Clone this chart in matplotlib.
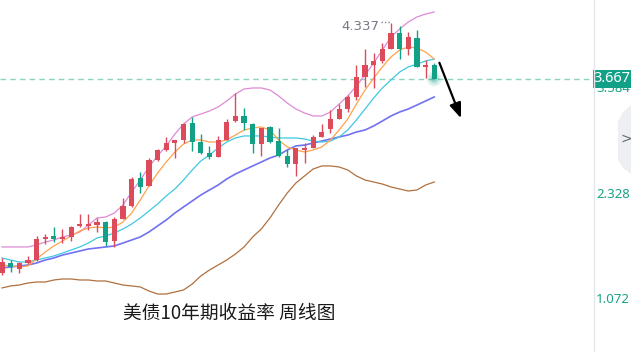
import matplotlib
matplotlib.use("Agg")
import matplotlib.pyplot as plt
from matplotlib.patches import Ellipse, Polygon, Rectangle
import matplotlib.transforms as mtransforms
import numpy as np

plt.rcParams['font.family'] = ['Noto Sans CJK SC', 'DejaVu Sans']

# weekly candles (open, high, low, close)
opens = [1.358, 1.477, 1.406, 1.477, 1.513, 1.763, 1.799, 1.763, 1.787, 1.918,
         1.918, 1.929, 1.965, 1.739, 2.001, 2.156, 2.489, 2.394, 2.703, 2.822,
         2.905, 2.941, 3.143, 2.917, 2.786, 2.739, 2.941, 3.167, 3.227, 3.131,
         2.893, 3.096, 2.929, 2.751, 2.655, 2.822, 2.846, 2.977, 3.072, 3.191,
         3.310, 3.453, 3.691, 3.833, 3.881, 4.024, 4.214, 4.024, 4.155, 3.810,
         3.833]
highs = [1.537, 1.513, 1.489, 1.561, 1.799, 1.822, 1.906, 1.882, 1.918, 2.060,
         2.060, 2.013, 1.977, 2.025, 2.251, 2.501, 2.560, 2.727, 2.834, 2.977,
         2.941, 3.143, 3.215, 3.012, 2.870, 2.989, 3.191, 3.500, 3.322, 3.143,
         3.084, 3.108, 3.084, 2.834, 2.846, 2.905, 3.000, 3.131, 3.298, 3.369,
         3.476, 3.833, 4.024, 3.976, 4.095, 4.337, 4.298, 4.226, 4.250, 3.893,
         3.857]
lows = [1.334, 1.370, 1.358, 1.465, 1.501, 1.703, 1.727, 1.715, 1.739, 1.906,
        1.870, 1.846, 1.680, 1.668, 2.001, 2.144, 2.310, 2.394, 2.691, 2.810,
        2.727, 2.905, 2.810, 2.774, 2.715, 2.739, 2.941, 3.155, 3.060, 2.786,
        2.751, 2.905, 2.739, 2.620, 2.513, 2.667, 2.846, 2.977, 3.024, 3.191,
        3.274, 3.417, 3.572, 3.560, 3.857, 4.024, 3.905, 3.952, 3.810, 3.679,
        3.667]
closes = [1.489, 1.430, 1.477, 1.513, 1.763, 1.787, 1.763, 1.787, 1.906, 1.941,
          1.929, 1.965, 1.727, 2.001, 2.156, 2.477, 2.382, 2.703, 2.822, 2.905,
          2.941, 3.131, 2.917, 2.786, 2.739, 2.941, 3.155, 3.227, 3.143, 2.893,
          3.084, 2.917, 2.751, 2.655, 2.846, 2.834, 2.977, 3.036, 3.191, 3.310,
          3.453, 3.691, 3.833, 3.881, 4.024, 4.214, 4.024, 4.167, 3.810, 3.822,
          3.667]

# indicator lines
ma5 = [1.453, 1.442, 1.430, 1.442, 1.525, 1.608, 1.680, 1.739, 1.799, 1.858,
       1.894, 1.906, 1.894, 1.906, 1.965, 2.072, 2.227, 2.394, 2.548, 2.679,
       2.798, 2.893, 2.941, 2.941, 2.917, 2.917, 2.941, 3.000, 3.060, 3.084,
       3.096, 3.060, 2.941, 2.858, 2.822, 2.798, 2.822, 2.858, 2.941, 3.060,
       3.191, 3.369, 3.536, 3.679, 3.810, 3.929, 4.012, 4.048, 4.036, 3.988,
       3.905]
ma10 = [1.537, 1.513, 1.489, 1.489, 1.513, 1.537, 1.561, 1.596, 1.632, 1.668,
        1.715, 1.775, 1.799, 1.834, 1.882, 1.941, 2.013, 2.096, 2.179, 2.275,
        2.358, 2.465, 2.584, 2.691, 2.762, 2.846, 2.917, 2.965, 2.989, 2.989,
        2.989, 2.977, 2.965, 2.965, 2.965, 2.953, 2.929, 2.917, 2.929, 2.977,
        3.060, 3.179, 3.310, 3.441, 3.560, 3.655, 3.750, 3.810, 3.845, 3.881,
        3.905]
boll_mid = [1.418, 1.430, 1.442, 1.453, 1.477, 1.513, 1.537, 1.572, 1.596, 1.620,
            1.644, 1.656, 1.668, 1.680, 1.715, 1.751, 1.787, 1.846, 1.918, 1.989,
            2.072, 2.144, 2.215, 2.286, 2.346, 2.405, 2.477, 2.536, 2.584, 2.632,
            2.679, 2.727, 2.762, 2.822, 2.870, 2.881, 2.905, 2.929, 2.953, 2.977,
            3.000, 3.036, 3.060, 3.108, 3.167, 3.227, 3.274, 3.310, 3.357, 3.405,
            3.453]
boll_up = [1.668, 1.668, 1.668, 1.668, 1.692, 1.727, 1.751, 1.787, 1.810, 1.846,
           1.929, 2.013, 2.025, 2.072, 2.167, 2.322, 2.465, 2.620, 2.751, 2.870,
           3.012, 3.131, 3.215, 3.250, 3.286, 3.334, 3.405, 3.488, 3.548, 3.560,
           3.560, 3.536, 3.465, 3.381, 3.310, 3.262, 3.227, 3.227, 3.274, 3.369,
           3.465, 3.584, 3.714, 3.857, 4.012, 4.167, 4.262, 4.345, 4.405, 4.440,
           4.464]
boll_low = [1.180, 1.204, 1.215, 1.239, 1.251, 1.251, 1.275, 1.287, 1.287, 1.275,
            1.275, 1.263, 1.263, 1.239, 1.215, 1.204, 1.192, 1.144, 1.108, 1.108,
            1.132, 1.156, 1.227, 1.323, 1.394, 1.453, 1.513, 1.584, 1.668, 1.787,
            1.882, 2.013, 2.167, 2.310, 2.429, 2.513, 2.596, 2.632, 2.632, 2.620,
            2.584, 2.513, 2.465, 2.441, 2.417, 2.382, 2.358, 2.334, 2.346, 2.405,
            2.441]

last_price = 3.667
high_mark = 4.337
axis_labels = [3.584, 2.328, 1.072]
title = "美债10年期收益率 周线图"

up_col = "#dd4a5a"
down_col = "#12a187"

fig = plt.figure(figsize=(6.31, 3.52), dpi=100)
ax = fig.add_axes([0, 0, 595 / 631, 1])
ax.set_xlim(-0.23, 68.6)
ax.set_ylim(0.418, 4.607)
ax.axis("off")

x = np.arange(len(opens))
o = np.array(opens); c = np.array(closes)
cols = np.where(c >= o, up_col, down_col)

ax.plot(x, boll_up, color="#dd8bd6", lw=0.9, zorder=2)
ax.plot(x, boll_low, color="#b0703f", lw=0.9, zorder=2)
ax.plot(x, boll_mid, color="#7171f2", lw=1.2, zorder=2)
ax.plot(x, ma10, color="#40c8e2", lw=0.9, zorder=2)
ax.plot(x, ma5, color="#ffa24d", lw=0.9, zorder=2)

ax.vlines(x, lows, highs, colors=cols, lw=1.0, zorder=3)
bottoms = np.minimum(o, c)
heights = np.maximum(np.abs(c - o), 0.02)
ax.bar(x, heights, bottom=bottoms, width=0.6, color=cols, zorder=4)

# glow on the latest candle
for r, a in [(0.9, 0.10), (0.65, 0.15), (0.4, 0.25)]:
    ax.add_patch(Ellipse((x[-1], last_price), r * 1.9, r * 0.2,
                         color=down_col, alpha=a, lw=0, zorder=5))

# last price line
ax.axhline(last_price, color="#8dd3bd", lw=1.0, ls=(0, (4, 3)), zorder=1)

# high annotation
ax.plot([x[45] - 1.2, x[45]], [highs[45] + 0.01, highs[45] + 0.01], color="#888888",
        lw=1.0, ls=(0, (1, 1.5)), zorder=5)
ax.text(x[45] - 1.3, highs[45] - 0.05, f"{high_mark}", color="#777b85", fontsize=9.5,
        ha="right", va="center", family=["DejaVu Sans"])

# arrow
ax.annotate("", xy=(x[-1] + 3.1, 3.20), xytext=(x[-1] + 0.6, 3.86),
            arrowprops=dict(arrowstyle="-|>,head_length=0.9,head_width=0.35",
                            color="black", lw=1.6, shrinkA=0, shrinkB=0), zorder=6)

ax.text(14.0, 0.88, title, fontsize=13.5, color="#1a1a1a", ha="left", va="center")

# right price axis
trans = mtransforms.blended_transform_factory(fig.transFigure, ax.transData)
fig.add_artist(plt.Line2D([594 / 631, 594 / 631], [0, 1], color="#e6e7ec", lw=1.0))
for v in axis_labels:
    ax.text(630 / 631, v - 0.03, f"{v:.3f}", transform=trans, color="#1aa386", fontsize=9.5,
            ha="right", va="center", family=["Noto Sans"], clip_on=False)
# current price tag
ax.add_patch(Rectangle((593 / 631, last_price - 0.105), 38 / 631, 0.21, transform=trans,
                       fc=down_col, ec="none", clip_on=False, zorder=9))
ax.text(630 / 631, last_price, f"{last_price:.3f}", transform=trans, color="white",
        fontsize=10.5, ha="right", va="center", family=["Noto Sans"], clip_on=False,
        zorder=10)

# side tab
tab = Polygon([(631 / 631, 1 - 105 / 352), (623 / 631, 1 - 112 / 352),
               (618 / 631, 1 - 122 / 352), (618 / 631, 1 - 160 / 352),
               (623 / 631, 1 - 168 / 352), (631 / 631, 1 - 174 / 352)],
              closed=True, transform=fig.transFigure, fc="#eeeff2", ec="none")
fig.add_artist(tab)
fig.text(626 / 631, 1 - 139 / 352, ">", color="#666b75", fontsize=10, ha="center",
         va="center", family=["DejaVu Sans"])

fig.savefig("out.png", dpi=100)
